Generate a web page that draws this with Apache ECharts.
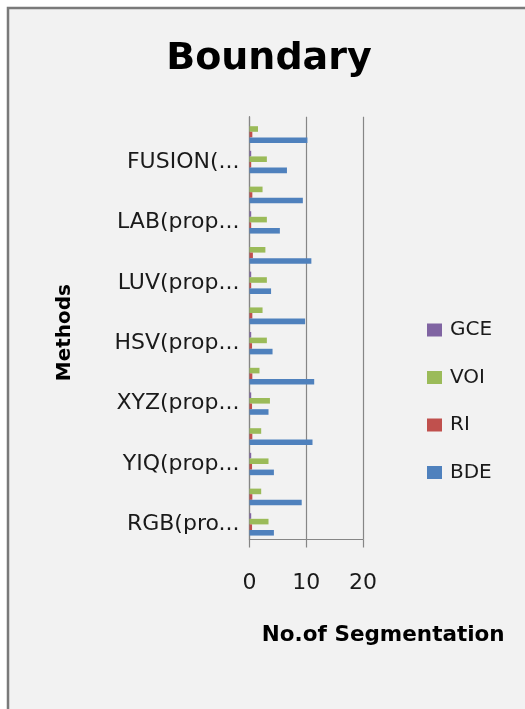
<!DOCTYPE html>
<html>
<head>
<meta charset="utf-8">
<script src="https://cdn.jsdelivr.net/npm/echarts@6/dist/echarts.min.js"></script>
<style>
  html, body { margin: 0; padding: 0; background: #ffffff; }
  #chart { width: 525px; height: 709px; }
</style>
</head>
<body>
<div id="chart"></div>
<script>
// Categories, bottom to top (as drawn on the y axis)
const methods = [
  'RGB(proposed)', 'RGB(existing)',
  'YIQ(proposed)', 'YIQ(existing)',
  'XYZ(proposed)', 'XYZ(existing)',
  'HSV(proposed)', 'HSV(existing)',
  'LUV(proposed)', 'LUV(existing)',
  'LAB(proposed)', 'LAB(existing)',
  'FUSION(proposed)', 'FUSION(existing)'
];
// Tick labels as they appear (truncated, every other category)
const tickLabels = [
  'RGB(pro...', '', 'YIQ(prop...', '', 'XYZ(prop...', '', 'HSV(prop...', '',
  'LUV(prop...', '', 'LAB(prop...', '', 'FUSION(...', ''
];
const seriesNames = ['GCE', 'VOI', 'RI', 'BDE'];
const gce = [0.3, 0, 0.3, 0, 0.3, 0, 0.3, 0, 0.3, 0, 0.3, 0, 0.3, 0];
const voi = [3.35, 2.06, 3.35, 2.06, 3.6, 1.76, 3.06, 2.3, 3.06, 2.8, 3.06, 2.3, 3.06, 1.5];
const ri  = [0.45, 0.5, 0.45, 0.5, 0.45, 0.5, 0.45, 0.5, 0.3, 0.6, 0.3, 0.5, 0.3, 0.5];
const bde = [4.3, 9.2, 4.3, 11.1, 3.35, 11.4, 4.06, 9.8, 3.8, 10.9, 5.35, 9.4, 6.6, 10.2];
const xTicks = [0, 10, 20];

const colors = ['#8064A2', '#9BBB59', '#C0504D', '#4F81BD'];
const FONT = 'DejaVu Sans';

const chart = echarts.init(document.getElementById('chart'), null, { renderer: 'canvas' });
const seriesData = [gce, voi, ri, bde];

chart.setOption({
  backgroundColor: '#ffffff',
  animation: false,
  color: colors,
  graphic: [{
    type: 'rect',
    z: -10,
    shape: { x: 8, y: 8, width: 600, height: 800 },
    style: { fill: '#f2f2f2', stroke: '#7a7a7a', lineWidth: 2.5 }
  }],
  title: {
    text: 'Boundary',
    left: 264,
    textAlign: 'center',
    top: 35,
    textStyle: { fontFamily: FONT, fontSize: 38, fontWeight: 'bold', color: '#000' }
  },
  legend: {
    orient: 'vertical',
    left: 422,
    top: 315,
    itemWidth: 15,
    itemHeight: 13,
    itemGap: 27.5,
    icon: 'rect',
    data: seriesNames,
    textStyle: { fontFamily: FONT, fontSize: 20, color: '#1a1a1a', padding: [0, 0, 0, 3] }
  },
  grid: {
    left: 249.5,
    right: 162,
    top: 116.7,
    bottom: 169.5,
    containLabel: false
  },
  xAxis: {
    type: 'value',
    min: xTicks[0],
    max: xTicks[xTicks.length - 1],
    interval: 10,
    name: 'No.of Segmentation',
    nameLocation: 'middle',
    nameGap: 85,
    nameTextStyle: { fontFamily: FONT, fontSize: 21.5, fontWeight: 'bold', color: '#000', padding: [0, 0, 0, 154] },
    axisLine: { show: true, lineStyle: { color: '#868686', width: 1.2 } },
    axisTick: { show: true, length: 8, lineStyle: { color: '#868686', width: 1.2 } },
    axisLabel: { fontFamily: FONT, fontSize: 22, color: '#1a1a1a', margin: 33 },
    splitLine: { show: true, lineStyle: { color: '#868686', width: 1.2 } }
  },
  yAxis: {
    type: 'category',
    data: methods,
    name: 'Methods',
    nameLocation: 'middle',
    nameGap: 175,
    nameRotate: 90,
    nameTextStyle: { fontFamily: FONT, fontSize: 20, fontWeight: 'bold', color: '#000', padding: [0, 9, 0, 0] },
    axisLine: { show: true, lineStyle: { color: '#868686', width: 1.2 } },
    axisTick: { show: false },
    axisLabel: {
      interval: 0,
      fontFamily: FONT,
      fontSize: 22,
      color: '#1a1a1a',
      margin: 10,
      formatter: function (v, i) { return tickLabels[i]; }
    },
    splitLine: { show: false }
  },
  series: seriesNames.map(function (name, k) {
    return {
      name: name,
      type: 'bar',
      data: seriesData[k],
      barGap: '0%',
      barCategoryGap: '26%'
    };
  })
});
</script>
</body>
</html>
